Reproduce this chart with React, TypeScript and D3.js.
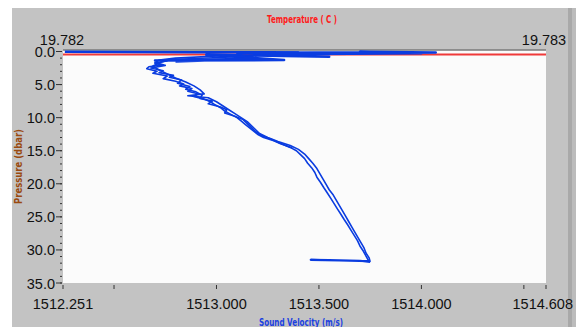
import React from "react";
import * as d3 from "d3";

// sound velocity profile (m/s) vs pressure (dbar)
const surfV = [1512.26, 1512.9, 1513.4, 1513.1, 1513.8, 1513.5, 1514.07, 1513.7, 1514.0, 1513.3, 1513.6, 1513.15, 1513.55, 1512.95, 1513.33, 1512.7, 1513.2, 1512.8];
const surfP = [0.05, 0.1, 0.15, 0.2, 0.1, 0.3, 0.15, 0.05, 0.25, 0.4, 0.2, 0.6, 0.8, 0.5, 1.3, 1.35, 1.1, 1.5];

const downP = [0.6, 1.0, 1.3, 1.7, 2.0, 2.3, 2.6, 3.0, 3.3, 3.7, 4.1, 4.5, 4.9, 5.2, 5.6, 6.0, 6.4, 6.8, 7.2, 7.6, 8.0, 8.5, 9.0, 9.5, 10.0, 10.5, 11.0, 11.5, 12.0, 12.5, 13.0, 13.5, 14.0, 14.5, 15.0, 15.6, 16.2, 16.9, 17.6, 18.3, 19.0, 19.8, 20.6, 21.4, 22.2, 23.0, 23.8, 24.6, 25.4, 26.2, 27.0, 27.8, 28.6, 29.4, 30.2, 31.0, 31.6];
const downV = [1513.05, 1512.80, 1512.72, 1512.70, 1512.74, 1512.67, 1512.66, 1512.71, 1512.69, 1512.76, 1512.74, 1512.80, 1512.84, 1512.82, 1512.88, 1512.86, 1512.91, 1512.89, 1512.94, 1512.97, 1512.99, 1513.02, 1513.04, 1513.07, 1513.10, 1513.12, 1513.14, 1513.16, 1513.18, 1513.20, 1513.23, 1513.28, 1513.32, 1513.36, 1513.39, 1513.41, 1513.43, 1513.445, 1513.465, 1513.48, 1513.49, 1513.508, 1513.524, 1513.541, 1513.558, 1513.574, 1513.59, 1513.607, 1513.623, 1513.64, 1513.656, 1513.672, 1513.688, 1513.70, 1513.717, 1513.731, 1513.742];

const midP = [1.4, 1.8, 2.1, 2.5, 2.9, 3.2, 3.6, 3.9, 4.3, 4.8, 5.3, 5.7, 6.1, 6.6, 7.1, 7.5, 7.9, 8.4, 8.8, 9.3, 9.8, 10.3, 10.9, 11.5, 12.1, 12.7, 13.3, 13.9, 14.6];
const midV = [1512.76, 1512.70, 1512.75, 1512.68, 1512.74, 1512.72, 1512.79, 1512.77, 1512.83, 1512.81, 1512.87, 1512.85, 1512.90, 1512.93, 1512.92, 1512.98, 1512.96, 1513.02, 1513.05, 1513.04, 1513.09, 1513.13, 1513.15, 1513.17, 1513.19, 1513.22, 1513.27, 1513.31, 1513.37];

const botV = [1513.745, 1513.60, 1513.46, 1513.55, 1513.70, 1513.75];
const botP = [31.7, 31.6, 31.5, 31.55, 31.65, 31.8];

const upP = [31.8, 31.2, 30.5, 29.7, 28.9, 28.1, 27.3, 26.5, 25.7, 24.9, 24.1, 23.3, 22.5, 21.7, 20.9, 20.1, 19.3, 18.5, 17.7, 16.9, 16.2, 15.5, 14.8, 14.2, 13.6, 13.0, 12.4, 11.8, 11.2, 10.6, 10.0, 9.4, 8.8, 8.2, 7.6, 7.0, 6.7, 6.4, 5.8, 5.2, 4.6, 4.0, 3.4, 2.8, 2.2, 1.6, 1.2, 0.8, 0.4];
const upV = [1513.75, 1513.745, 1513.73, 1513.72, 1513.705, 1513.69, 1513.675, 1513.66, 1513.645, 1513.63, 1513.615, 1513.60, 1513.585, 1513.57, 1513.55, 1513.535, 1513.52, 1513.505, 1513.49, 1513.47, 1513.45, 1513.43, 1513.40, 1513.36, 1513.30, 1513.25, 1513.21, 1513.19, 1513.17, 1513.15, 1513.12, 1513.09, 1513.06, 1513.03, 1513.0, 1512.96, 1512.86, 1512.94, 1512.92, 1512.89, 1512.85, 1512.80, 1512.76, 1512.72, 1512.69, 1512.73, 1512.78, 1513.1, 1513.3];

// temperature (C) vs pressure
const tempT = [19.782, 19.7822, 19.7825, 19.7828, 19.783];
const tempP = [0.45, 0.45, 0.45, 0.45, 0.45];

const yMajor = [0, 5, 10, 15, 20, 25, 30, 35];
const xLabels = [1512.251, 1513.0, 1513.5, 1514.0, 1514.608];
const xTicks = [1512.251, 1512.5, 1513.0, 1513.5, 1514.0, 1514.5, 1514.608];

const W = 576, H = 327;
const L = 63, R = 546, T = 50, B = 283;
const numFont = "'Liberation Sans', Arial, sans-serif";
const titleFont = "'DejaVu Sans', sans-serif";

export default function App() {
  const x = d3.scaleLinear().domain([1512.251, 1514.608]).range([L, R]);
  const xt = d3.scaleLinear().domain([19.782, 19.783]).range([L, R]);
  const y = d3.scaleLinear().domain([0, 35]).range([T + 1.5, B]);
  const minor = d3.range(0, 35.01, 1);

  const line = d3.line<[number, number]>().x(d => x(d[0])).y(d => y(d[1]));
  const tline = d3.line<[number, number]>().x(d => xt(d[0])).y(d => y(d[1]));
  const zip = (a: number[], b: number[]) => a.map((v, i) => [v, b[i]] as [number, number]);

  const blue = "#0a3ce0";
  return (
    <div style={{ position: "absolute", left: 0, top: 0 }}>
      <svg width={W} height={H} style={{ display: "block", background: "#fff" }}>
        <rect x={12} y={8} width={556} height={H - 8} fill="#c3c3c3" />
        <rect x={568} y={8} width={4} height={H - 8} fill="#a9a9a9" />
        <rect x={572} y={8} width={4} height={H - 8} fill="#bcbcbc" />
        <rect x={L} y={T} width={R - L} height={B - T} fill="#fbfbfb" />
        <line x1={L} x2={R} y1={T} y2={T} stroke="#7a7a7a" strokeWidth={1.5} />

        <text x={302} y={23} textAnchor="middle" fill="#ff1a1a" fontFamily={titleFont} fontSize={10} fontWeight="bold"
          textLength={70} lengthAdjust="spacingAndGlyphs">Temperature ( C )</text>
        <text x={62} y={45} textAnchor="middle" fill="#111" fontFamily={numFont} fontSize={14.5}>19.782</text>
        <text x={544} y={45} textAnchor="middle" fill="#111" fontFamily={numFont} fontSize={14.5}>19.783</text>

        {/* y axis */}
        {minor.map(d => (
          <line key={"m" + d} x1={L - 3} x2={L - 1} y1={y(d)} y2={y(d)} stroke="#333" strokeWidth={1} />
        ))}
        {yMajor.map(d => (
          <g key={d}>
            <line x1={L - 7} x2={L - 1} y1={y(d)} y2={y(d)} stroke="#333" strokeWidth={1} />
            <text x={L - 8} y={y(d) + 5.5} textAnchor="end" fill="#111" fontFamily={numFont} fontSize={14.5}>{d.toFixed(1)}</text>
          </g>
        ))}
        <text transform={`translate(22,${(T + B) / 2}) rotate(-90)`} textAnchor="middle" fill="#9a4a10" fontFamily={titleFont}
          fontSize={10} fontWeight="bold" textLength={75} lengthAdjust="spacingAndGlyphs">Pressure (dbar)</text>

        {/* x axis */}
        {xTicks.map(d => (
          <line key={d} x1={x(d)} x2={x(d)} y1={B + 2} y2={B + 6} stroke="#333" strokeWidth={1} />
        ))}
        {xLabels.map((d, i) => (
          <text key={d} x={i === xLabels.length - 1 ? W - 3 : x(d)} y={309}
            textAnchor={i === xLabels.length - 1 ? "end" : "middle"} fill="#111" fontFamily={numFont} fontSize={14.5}>{d.toFixed(3)}</text>
        ))}
        <text x={301} y={326} textAnchor="middle" fill="#1a40e0" fontFamily={titleFont} fontSize={10} fontWeight="bold"
          textLength={84} lengthAdjust="spacingAndGlyphs">Sound Velocity (m/s)</text>

        {/* data */}
        <path d={tline(zip(tempT, tempP)) ?? ""} fill="none" stroke="#f03a3a" strokeWidth={2} />
        <g fill="none" stroke={blue} strokeWidth={1.6} strokeLinejoin="round">
          <path d={line(zip(surfV, surfP)) ?? ""} strokeWidth={2.5} />
          <path d={line(zip(downV, downP)) ?? ""} />
          <path d={line(zip(midV, midP)) ?? ""} />
          <path d={line(zip(botV, botP)) ?? ""} strokeWidth={2.2} />
          <path d={line(zip(upV, upP)) ?? ""} />
        </g>
      </svg>
    </div>
  );
}
